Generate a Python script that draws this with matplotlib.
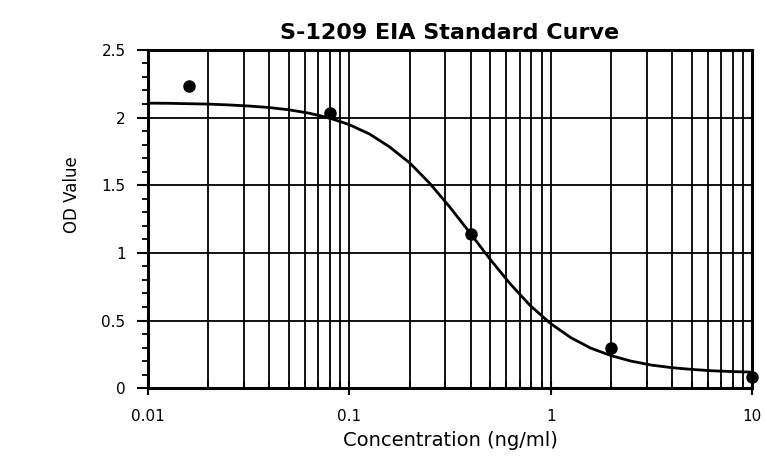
import matplotlib
matplotlib.use("Agg")
import matplotlib.pyplot as plt
from matplotlib.ticker import LogLocator, FixedLocator, FuncFormatter, MultipleLocator

# standards (concentration ng/ml, OD)
conc = [0.016, 0.08, 0.4, 2.0, 10.0]
od = [2.23, 2.03, 1.14, 0.30, 0.08]

# fitted curve, every 0.1 decade
curve_x = [0.01, 0.0126, 0.0158, 0.02, 0.0251, 0.0316, 0.0398, 0.0501, 0.0631, 0.0794,
           0.1, 0.126, 0.158, 0.2, 0.251, 0.316, 0.398, 0.501, 0.631, 0.794,
           1.0, 1.26, 1.58, 2.0, 2.51, 3.16, 3.98, 5.01, 6.31, 7.94, 10.0]
curve_y = [2.106, 2.105, 2.102, 2.099, 2.093, 2.085, 2.074, 2.057, 2.032, 1.997,
           1.947, 1.878, 1.784, 1.663, 1.513, 1.337, 1.146, 0.951, 0.769, 0.608,
           0.477, 0.373, 0.296, 0.240, 0.200, 0.171, 0.152, 0.139, 0.129, 0.123, 0.119]

x_ticks = [0.01, 0.1, 1, 10]
x_labels = ["0.01", "0.1", "1", "10"]
y_ticks = [0, 0.5, 1, 1.5, 2, 2.5]


def main():
    fig = plt.figure(figsize=(7.66, 4.70), dpi=100)
    ax = fig.add_axes([0.193, 0.174, 0.789, 0.720])

    ax.set_xscale("log")
    ax.set_xlim(0.01, 10)
    ax.set_ylim(0, 2.5)

    # grid: every log tick vertically, majors only horizontally
    ax.xaxis.set_major_locator(FixedLocator(x_ticks))
    ax.xaxis.set_minor_locator(LogLocator(base=10, subs=range(2, 10)))
    ax.xaxis.set_major_formatter(FuncFormatter(lambda v, p: x_labels[x_ticks.index(v)] if v in x_ticks else ""))
    ax.yaxis.set_major_locator(FixedLocator(y_ticks))
    ax.yaxis.set_minor_locator(MultipleLocator(0.1))
    ax.yaxis.set_major_formatter(FuncFormatter(lambda v, p: "%g" % v))

    ax.grid(True, which="both", axis="x", color="black", linewidth=1.3)
    ax.grid(True, which="major", axis="y", color="black", linewidth=1.3)
    ax.set_axisbelow(True)

    ax.plot(curve_x, curve_y, color="black", linewidth=2.0, zorder=3)
    ax.plot(conc, od, "o", color="black", markersize=8, zorder=4, clip_on=False)

    for s in ax.spines.values():
        s.set_linewidth(2.2)
        s.set_color("black")

    ax.tick_params(axis="x", which="major", direction="inout", length=10, width=1.5,
                   labelsize=11, pad=10, colors="black")
    ax.tick_params(axis="x", which="minor", direction="in", length=5, width=1.3)
    ax.tick_params(axis="y", which="major", direction="out", length=8, width=1.5,
                   labelsize=11, pad=8)
    ax.tick_params(axis="y", which="minor", direction="out", length=4, width=1.3)

    ax.set_title("S-1209 EIA Standard Curve", fontsize=16, fontweight="bold", pad=8)
    ax.set_xlabel("Concentration (ng/ml)", fontsize=14, labelpad=5)
    ax.set_ylabel("OD Value", fontsize=12)
    ax.yaxis.set_label_coords(-0.11, 0.571)

    fig.savefig("out.png", dpi=100)
    plt.close(fig)


if __name__ == '__main__':
    main()
